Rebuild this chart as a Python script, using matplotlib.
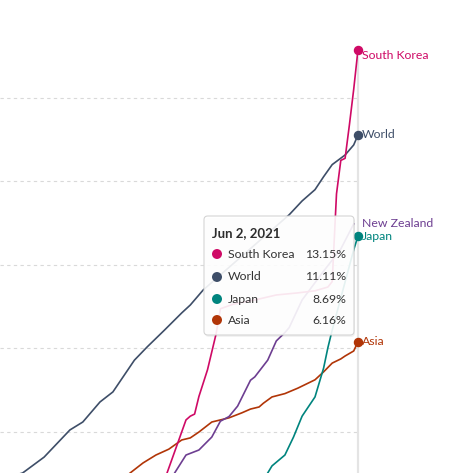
import pandas as pd
import matplotlib
matplotlib.use("Agg")
import matplotlib.pyplot as plt
import matplotlib.dates as mdates
from matplotlib.patches import FancyBboxPatch, Circle

plt.rcParams['font.family'] = ['Lato', 'DejaVu Sans']

# --- data (share of population, %) ---
world_dates = ["2021-03-14", "2021-03-16", "2021-03-21", "2021-03-27", "2021-03-30",
               "2021-04-03", "2021-04-06", "2021-04-11", "2021-04-14", "2021-04-18",
               "2021-04-22", "2021-04-24", "2021-04-27", "2021-05-07", "2021-05-17",
               "2021-05-20", "2021-05-23", "2021-05-25", "2021-05-27", "2021-05-30",
               "2021-06-01", "2021-06-02"]
world_vals = [2.96, 3.02, 3.40, 4.05, 4.24, 4.72, 4.96, 5.72, 6.04, 6.44,
              6.85, 7.04, 7.40, 8.30, 9.20, 9.53, 9.80, 10.11, 10.40, 10.63,
              10.87, 11.11]

korea_dates = ["2021-04-18", "2021-04-23", "2021-04-24", "2021-04-25", "2021-04-26",
               "2021-04-28", "2021-04-30", "2021-05-01", "2021-05-04", "2021-05-09",
               "2021-05-14", "2021-05-19", "2021-05-23", "2021-05-26", "2021-05-27",
               "2021-05-28", "2021-05-29", "2021-05-30", "2021-05-31", "2021-06-01",
               "2021-06-02"]
korea_vals = [2.85, 4.29, 4.38, 4.43, 4.85, 5.49, 6.35, 6.95, 7.06, 7.16,
              7.28, 7.33, 7.38, 7.47, 7.60, 9.70, 10.50, 10.55, 11.35, 12.20,
              13.15]

japan_dates = ["2021-05-11", "2021-05-12", "2021-05-13", "2021-05-16", "2021-05-18",
               "2021-05-20", "2021-05-23", "2021-05-25", "2021-05-26", "2021-05-27",
               "2021-06-01", "2021-06-02"]
japan_vals = [2.85, 3.02, 3.19, 3.45, 3.88, 4.38, 4.84, 5.53, 6.02, 6.44, 8.36, 8.69]

asia_dates = ["2021-04-08", "2021-04-10", "2021-04-13", "2021-04-16", "2021-04-19",
              "2021-04-22", "2021-04-24", "2021-04-26", "2021-04-29", "2021-05-01",
              "2021-05-03", "2021-05-06", "2021-05-08", "2021-05-10", "2021-05-11",
              "2021-05-13", "2021-05-16", "2021-05-19", "2021-05-21", "2021-05-23",
              "2021-05-25", "2021-05-27", "2021-05-29", "2021-05-30", "2021-06-01",
              "2021-06-02"]
asia_vals = [2.85, 3.02, 3.26, 3.45, 3.59, 3.81, 3.86, 4.00, 4.24, 4.29,
             4.34, 4.46, 4.55, 4.60, 4.69, 4.84, 4.92, 5.05, 5.15, 5.25,
             5.44, 5.65, 5.75, 5.82, 5.94, 6.16]

nz_dates = ["2021-04-19", "2021-04-23", "2021-04-26", "2021-04-29", "2021-05-01",
            "2021-05-03", "2021-05-05", "2021-05-08", "2021-05-09", "2021-05-12",
            "2021-05-14", "2021-05-16", "2021-05-17", "2021-05-20", "2021-05-25",
            "2021-05-29", "2021-06-01"]
nz_vals = [2.80, 3.45, 3.57, 3.88, 4.26, 4.37, 4.62, 5.24, 5.32, 5.72,
           6.18, 6.38, 6.50, 7.16, 7.85, 8.38, 8.98]

tooltip_date = "Jun 2, 2021"
tooltip_names = ["South Korea", "World", "Japan", "Asia"]
tooltip_vals = ["13.15%", "11.11%", "8.69%", "6.16%"]
gridvals = [4, 6, 8, 10, 12]

# --- style ---
col = {"South Korea": "#CF0A66", "World": "#3E4E68", "New Zealand": "#6D3E91",
       "Japan": "#00847E", "Asia": "#B13507"}

W, H = 475, 473
fig = plt.figure(figsize=(W / 100, H / 100), dpi=100)
ax = fig.add_axes([0, 0, 358 / W, 425 / H])
for s in ax.spines.values():
    s.set_visible(False)
ax.set_xticks([])
ax.set_yticks([])

end = pd.Timestamp("2021-06-02")
xend = mdates.date2num(end)
ax.set_xlim(xend - 358 / 4.3, xend)   # ~4.3 px per day
ax.set_ylim(3.02, 13.19)

for g in gridvals:
    ax.axhline(g, color="#d9d9d9", lw=0.8, ls=(0, (3, 3)), zorder=0)

# hover line
ax.axvline(xend, color="#e4e4e4", lw=1.6, zorder=0.5, clip_on=False)

# name, dates, values, end dot?, label nudge (px)
series = [
    ("World", world_dates, world_vals, True, (4, 0)),
    ("Asia", asia_dates, asia_vals, True, (4, 0)),
    ("New Zealand", nz_dates, nz_vals, False, (8, 0)),
    ("Japan", japan_dates, japan_vals, True, (4, 0)),
    ("South Korea", korea_dates, korea_vals, True, (4, -6)),
]
for name, d, v, dot, nudge in series:
    x = pd.to_datetime(d)
    ax.plot(x, v, color=col[name], lw=1.2, zorder=2, solid_joinstyle="round")
    if dot:
        ax.plot(x[-1:], v[-1:], "o", color=col[name], ms=5.8, zorder=3, clip_on=False)
    ax.annotate(name, xy=(mdates.date2num(x[-1]), v[-1]), xytext=nudge,
                textcoords="offset pixels", color=col[name], fontsize=8.8,
                va="center", ha="left", annotation_clip=False)


# --- tooltip (pixel coords -> figure fraction) ---
def fx(px):
    return px / W


def fy(py):
    return 1 - py / H


shadow = FancyBboxPatch((fx(205), fy(337)), fx(354) - fx(204), fy(216) - fy(335),
                        boxstyle="round,pad=0,rounding_size=0.008",
                        transform=fig.transFigure, facecolor="black", alpha=0.05,
                        edgecolor="none", zorder=4.5)
fig.patches.append(shadow)
box = FancyBboxPatch((fx(204), fy(335)), fx(354) - fx(204), fy(216) - fy(335),
                     boxstyle="round,pad=0,rounding_size=0.008",
                     transform=fig.transFigure, facecolor="white", alpha=0.9,
                     edgecolor="#d0d0d0", lw=0.8, zorder=5)
fig.patches.append(box)

fig.text(fx(212), fy(233), tooltip_date, fontsize=9.5, fontweight="bold",
         color="#2d2d2d", va="center", ha="left", zorder=6)
row_y = [254, 277, 299, 320]
for n, val, ry in zip(tooltip_names, tooltip_vals, row_y):
    fig.patches.append(Circle((fx(217), fy(ry)), 5 / W, transform=fig.transFigure,
                              facecolor=col[n], edgecolor="none", zorder=6))
    fig.text(fx(228), fy(ry), n, fontsize=8.8, color="#333333", va="center", ha="left", zorder=6)
    fig.text(fx(346), fy(ry), val, fontsize=8.8, color="#333333", va="center", ha="right", zorder=6)

fig.savefig("out.png", dpi=100)
